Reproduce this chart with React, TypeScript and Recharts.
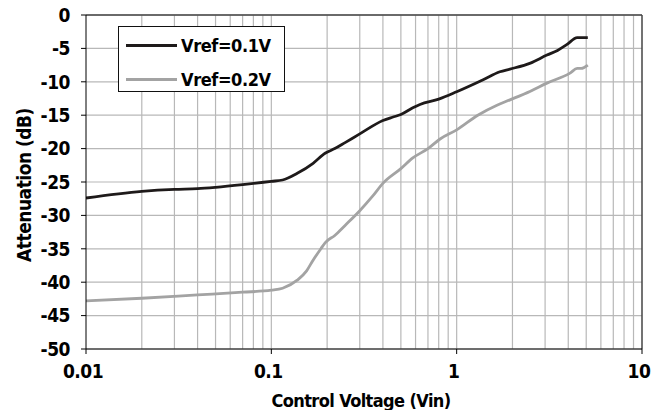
import { LineChart, Line, XAxis, YAxis, CartesianGrid, ReferenceLine } from 'recharts';

const FONT = "'Liberation Sans Narrow', 'DejaVu Sans Condensed', 'Arial Narrow', sans-serif";

// Vref = 0.1V, attenuation (dB) vs control voltage (V)
const vref01X = [0.01, 0.02, 0.03, 0.04, 0.05, 0.07, 0.1, 0.115, 0.138, 0.168, 0.195, 0.22, 0.25, 0.3, 0.4, 0.45, 0.5, 0.58, 0.634, 0.8, 1.0, 1.39, 1.71, 1.94, 2.5, 3.07, 3.5, 3.94, 4.47, 5.1];
const vref01Y = [-27.4, -26.4, -26.1, -26.0, -25.8, -25.4, -24.9, -24.7, -23.7, -22.2, -20.7, -20.0, -19.1, -17.8, -15.8, -15.3, -14.9, -13.9, -13.4, -12.6, -11.5, -9.7, -8.5, -8.1, -7.2, -6.0, -5.3, -4.4, -3.4, -3.4];

// Vref = 0.2V
const vref02X = [0.01, 0.02, 0.04, 0.07, 0.1, 0.115, 0.138, 0.155, 0.168, 0.185, 0.195, 0.22, 0.25, 0.3, 0.35, 0.4, 0.5, 0.58, 0.7, 0.81, 1.0, 1.3, 1.65, 1.94, 2.5, 3.07, 4.09, 4.47, 4.7, 5.1];
const vref02Y = [-42.8, -42.4, -41.9, -41.5, -41.2, -40.9, -39.7, -38.3, -36.7, -35.0, -34.1, -33.0, -31.5, -29.3, -27.2, -25.2, -23.0, -21.4, -20.0, -18.6, -17.2, -15.0, -13.5, -12.7, -11.4, -10.2, -8.7, -8.0, -8.0, -7.5];

const xTicks = [0.01, 0.1, 1, 10];
const yTicks = [0, -5, -10, -15, -20, -25, -30, -35, -40, -45, -50];
const minorX = [0.02, 0.03, 0.04, 0.05, 0.06, 0.07, 0.08, 0.09, 0.1, 0.2, 0.3, 0.4, 0.5, 0.6, 0.7, 0.8, 0.9, 1, 2, 3, 4, 5, 6, 7, 8, 9];

const series = [
  { name: 'Vref=0.1V', color: '#1e1a1a', data: vref01X.map((x, i) => ({ x, y: vref01Y[i] })) },
  { name: 'Vref=0.2V', color: '#a3a3a3', data: vref02X.map((x, i) => ({ x, y: vref02Y[i] })) },
];

const LegendBox = () => (
  <div style={{ position: 'absolute', left: 118, top: 26, width: 167, height: 66, boxSizing: 'border-box', border: '1.5px solid #111', background: '#fff' }}>
    {series.map((s, i) => (
      <div key={s.name} style={{ position: 'absolute', left: 7, top: 18 + i * 34 - 17, height: 34, display: 'flex', alignItems: 'center' }}>
        <span style={{ display: 'inline-block', width: 51, height: 3, background: s.color, marginRight: 4 }} />
        <span style={{ fontFamily: FONT, fontWeight: 'bold', fontSize: 18, letterSpacing: -0.4, color: '#000' }}>{s.name}</span>
      </div>
    ))}
  </div>
);

export default function App() {
  const tickStyle = { fill: '#000', fontFamily: FONT, fontWeight: 'bold' as const };
  return (
    <div style={{ position: 'absolute', left: 0, top: 0, width: 658, height: 410, background: '#fff' }}>
      <LineChart width={658} height={410} margin={{ top: 15, right: 16, bottom: 0, left: 0 }}>
        <CartesianGrid vertical={false} stroke="#b8b8b8" strokeWidth={1.2} />
        {minorX.map(v => (
          <ReferenceLine key={v} x={v} stroke="#b8b8b8" strokeWidth={1.2} />
        ))}
        <ReferenceLine y={0} stroke="#444" strokeWidth={1.5} />
        <ReferenceLine x={10} stroke="#444" strokeWidth={1.5} />
        <XAxis
          dataKey="x"
          type="number"
          scale="log"
          domain={[0.01, 10]}
          ticks={xTicks}
          allowDataOverflow
          height={61}
          tickSize={5}
          tickMargin={11}
          stroke="#000"
          tick={{ ...tickStyle, fontSize: 19, letterSpacing: -0.5, dx: -3 }}
          tickFormatter={(v: number) => String(v)}
          label={{ value: 'Control Voltage (Vin)', position: 'insideBottom', offset: 3, dx: -3, fill: '#000', fontFamily: FONT, fontWeight: 'bold', fontSize: 18, letterSpacing: -0.6 }}
        />
        <YAxis
          type="number"
          domain={[-50, 0]}
          ticks={yTicks}
          width={86}
          tickSize={5}
          tickMargin={11}
          stroke="#000"
          tick={{ ...tickStyle, fontSize: 19, letterSpacing: -0.5 }}
          label={{
            content: () => (
              <text x={31} y={185} transform="rotate(-90 31 185)" textAnchor="middle" fill="#000" fontFamily={FONT} fontWeight="bold" fontSize={19} letterSpacing={-0.5}>
                Attenuation (dB)
              </text>
            ),
          }}
        />
        {series.map(s => (
          <Line
            key={s.name}
            data={s.data}
            dataKey="y"
            name={s.name}
            type="monotone"
            stroke={s.color}
            strokeWidth={2.8}
            dot={false}
            isAnimationActive={false}
          />
        ))}
      </LineChart>
      <LegendBox />
    </div>
  );
}
